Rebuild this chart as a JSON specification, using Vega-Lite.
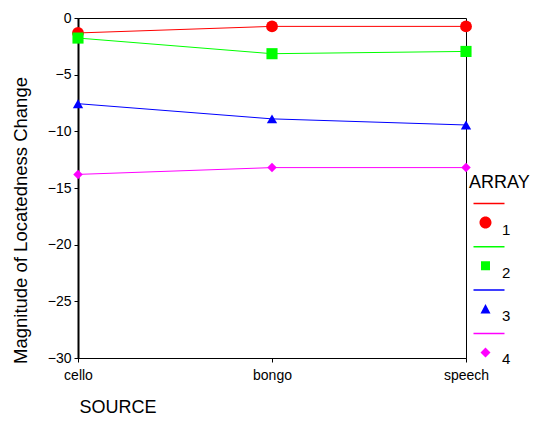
{
  "$schema": "https://vega.github.io/schema/vega-lite/v6.json",
  "width": 388,
  "height": 340,
  "autosize": "none",
  "padding": {"left": 78, "top": 18, "right": 67, "bottom": 65},
  "background": "white",
  "config": {
    "font": "Liberation Sans",
    "view": {"stroke": "black", "strokeWidth": 1},
    "axis": {"grid": false, "domainColor": "black", "tickColor": "black", "labelColor": "black", "titleColor": "black", "labelFont": "Liberation Sans", "titleFont": "Liberation Sans", "titleFontWeight": "normal"},
    "legend": {
      "orient": "none", "legendX": 391, "legendY": 156,
      "titleFontSize": 18, "titleFont": "Liberation Sans", "titleFontWeight": "normal", "titleColor": "black", "titlePadding": 30,
      "labelFontSize": 15, "labelColor": "black", "labelOffset": 9, "labelFont": "Liberation Sans",
      "symbolSize": 100, "symbolOpacity": 1, "symbolStrokeWidth": 0, "symbolOffset": 9,
      "rowPadding": 7.3, "padding": 0
    }
  },
  "data": {
    "values": [
      {"SOURCE": "cello", "ARRAY": "1", "value": -1.32},
      {"SOURCE": "bongo", "ARRAY": "1", "value": -0.74},
      {"SOURCE": "speech", "ARRAY": "1", "value": -0.74},
      {"SOURCE": "cello", "ARRAY": "2", "value": -1.77},
      {"SOURCE": "bongo", "ARRAY": "2", "value": -3.15},
      {"SOURCE": "speech", "ARRAY": "2", "value": -2.95},
      {"SOURCE": "cello", "ARRAY": "3", "value": -7.56},
      {"SOURCE": "bongo", "ARRAY": "3", "value": -8.9},
      {"SOURCE": "speech", "ARRAY": "3", "value": -9.44},
      {"SOURCE": "cello", "ARRAY": "4", "value": -13.8},
      {"SOURCE": "bongo", "ARRAY": "4", "value": -13.2},
      {"SOURCE": "speech", "ARRAY": "4", "value": -13.2}
    ]
  },
  "encoding": {
    "x": {
      "field": "SOURCE", "type": "nominal",
      "scale": {"type": "point", "padding": 0, "domain": ["cello", "bongo", "speech"]},
      "axis": {"title": "SOURCE", "labelAngle": 0, "labelFontSize": 14, "labelPadding": 6, "tickSize": 4, "domainWidth": 1, "titleFontSize": 18, "titleAnchor": "start", "titleAlign": "left", "titleX": 1, "titleY": 49, "titleBaseline": "middle"}
    },
    "y": {
      "field": "value", "type": "quantitative",
      "scale": {"domain": [-30, 0], "nice": false, "zero": false},
      "axis": {"title": "Magnitude of Locatedness Change", "values": [0, -5, -10, -15, -20, -25, -30], "labelFontSize": 14, "labelPadding": 3, "tickSize": 4, "domainWidth": 2, "titleFontSize": 18.5, "titleX": -58, "titleY": 202, "titleBaseline": "middle", "titleAlign": "center", "titleAngle": -90}
    }
  },
  "layer": [
    {
      "mark": {"type": "line", "strokeWidth": 1},
      "encoding": {
        "color": {"field": "ARRAY", "type": "nominal", "scale": {"domain": ["1", "2", "3", "4"], "range": ["#ff0000", "#00ff00", "#0000ff", "#ff00ff"]}, "legend": null}
      }
    },
    {
      "mark": {"type": "point", "filled": true, "opacity": 1},
      "encoding": {
        "color": {"field": "ARRAY", "type": "nominal", "scale": {"domain": ["1", "2", "3", "4"], "range": ["#ff0000", "#00ff00", "#0000ff", "#ff00ff"]}, "legend": null},
        "shape": {"field": "ARRAY", "type": "nominal", "scale": {"domain": ["1", "2", "3", "4"], "range": ["circle", "square", "triangle-up", "diamond"]}, "legend": null},
        "size": {"field": "ARRAY", "type": "nominal", "scale": {"domain": ["1", "2", "3", "4"], "range": [140, 90, 80, 80]}, "legend": null}
      }
    },
    {
      "mark": {"type": "point", "filled": true, "opacity": 0},
      "encoding": {
        "fill": {"field": "ARRAY", "type": "nominal", "title": "ARRAY", "scale": {"domain": ["1", "2", "3", "4"], "range": ["#ff0000", "#00ff00", "#0000ff", "#ff00ff"]}},
        "shape": {
          "field": "ARRAY", "type": "nominal", "title": "ARRAY",
          "scale": {"domain": ["1", "2", "3", "4"], "range": [
            "M-2.4,-5.35L3.8,-5.35L3.8,-5.05L-2.4,-5.05ZM-1.2,-1.4A1.2,1.2 0 1,0 1.2,-1.4A1.2,1.2 0 1,0 -1.2,-1.4Z",
            "M-2.4,-5.35L3.8,-5.35L3.8,-5.05L-2.4,-5.05ZM-0.9,-2.3L0.9,-2.3L0.9,-0.5L-0.9,-0.5Z",
            "M-2.4,-5.35L3.8,-5.35L3.8,-5.05L-2.4,-5.05ZM0,-2.4L1,-0.5L-1,-0.5Z",
            "M-2.4,-5.35L3.8,-5.35L3.8,-5.05L-2.4,-5.05ZM0,-2.4L1,-1.4L0,-0.4L-1,-1.4Z"
          ]}
        }
      }
    }
  ],
  "resolve": {"scale": {"shape": "independent", "color": "independent", "size": "independent", "fill": "independent"}}
}
